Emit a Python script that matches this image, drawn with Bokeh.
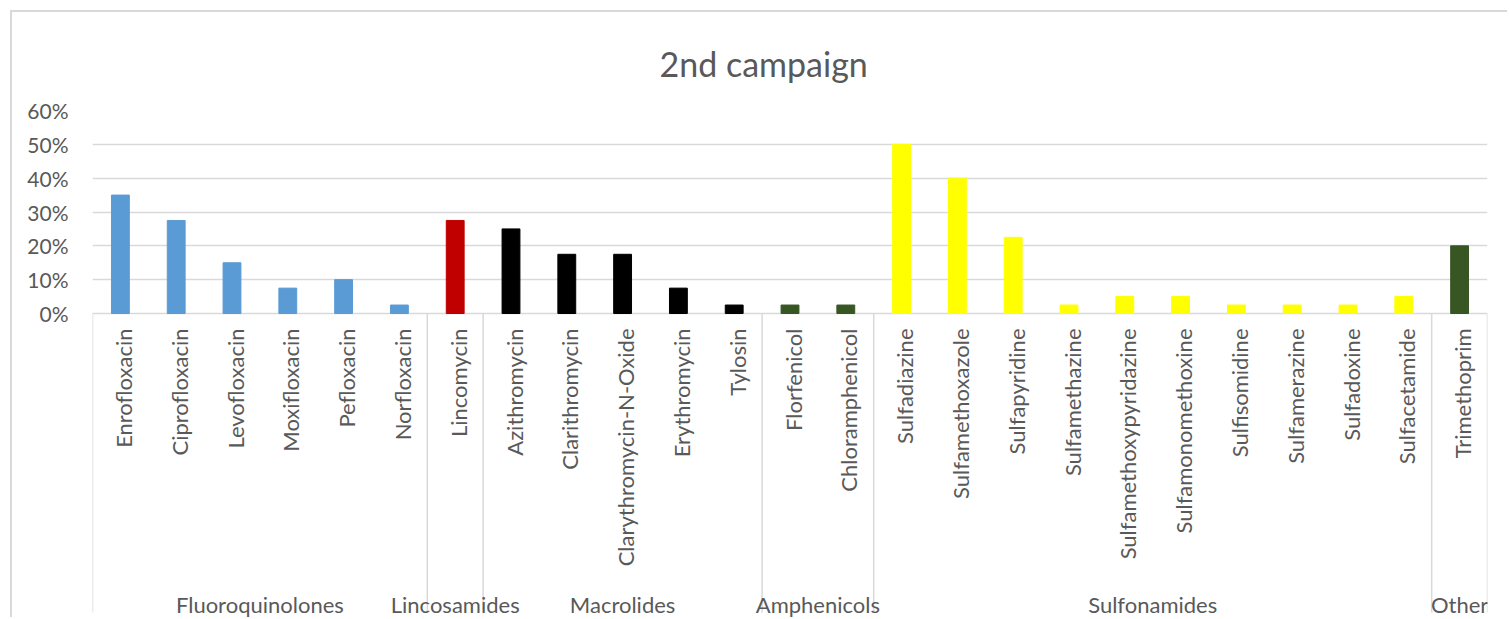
import math
from bokeh.plotting import figure
from bokeh.models import ColumnDataSource, FixedTicker, NumeralTickFormatter, Range1d, Title
from bokeh.core.properties import value
from bokeh.embed import file_html
from bokeh.resources import INLINE

# ---------------- data ----------------
groups = ["Fluoroquinolones", "Lincosamides", "Macrolides", "Amphenicols", "Sulfonamides", "Other"]
fluoroquinolones = ["Enrofloxacin", "Ciprofloxacin", "Levofloxacin", "Moxifloxacin", "Pefloxacin", "Norfloxacin"]
fluoroquinolones_vals = [0.35, 0.275, 0.15, 0.075, 0.10, 0.025]
lincosamides = ["Lincomycin"]
lincosamides_vals = [0.275]
macrolides = ["Azithromycin", "Clarithromycin", "Clarythromycin-N-Oxide", "Erythromycin", "Tylosin"]
macrolides_vals = [0.25, 0.175, 0.175, 0.075, 0.025]
amphenicols = ["Florfenicol", "Chloramphenicol"]
amphenicols_vals = [0.025, 0.025]
sulfonamides = ["Sulfadiazine", "Sulfamethoxazole", "Sulfapyridine", "Sulfamethazine",
                "Sulfamethoxypyridazine", "Sulfamonomethoxine", "Sulfisomidine",
                "Sulfamerazine", "Sulfadoxine", "Sulfacetamide"]
sulfonamides_vals = [0.50, 0.40, 0.225, 0.025, 0.05, 0.05, 0.025, 0.025, 0.025, 0.05]
other = ["Trimethoprim"]
other_vals = [0.20]
y_ticks = [0, 0.1, 0.2, 0.3, 0.4, 0.5, 0.6]

group_members = [fluoroquinolones, lincosamides, macrolides, amphenicols, sulfonamides, other]
group_values = [fluoroquinolones_vals, lincosamides_vals, macrolides_vals, amphenicols_vals,
                sulfonamides_vals, other_vals]
group_colors = ["#5B9BD5", "#C00000", "#000000", "#375623", "#FFFF00", "#375623"]

# ---------------- build sources ----------------
names, xs, tops, colors = [], [], [], []
sep_x = [0]
grp_x = []
i = 0
for members, vals, col in zip(group_members, group_values, group_colors):
    start = i
    for n, v in zip(members, vals):
        names.append(n)
        xs.append(i + 0.5)
        tops.append(v)
        colors.append(col)
        i += 1
    sep_x.append(i)
    grp_x.append((start + i) / 2)
ncat = i

TEXT = "#595959"
GRID = "#D9D9D9"
FONT = "Lato"

# layout: 0.6 units span 203 px
PX = 203 / 0.6
W, H = 1497, 607
top_border = 98
frame_h = H - top_border
y_min = 0.6 - frame_h / PX

p = figure(width=W, height=H, output_backend="svg", toolbar_location=None,
           x_range=Range1d(0, ncat), y_range=Range1d(y_min, 0.6),
           x_axis_location=None, min_border_left=80, min_border_right=22,
           min_border_top=top_border, min_border_bottom=0,
           background_fill_color="white", border_fill_color="white")
p.margin = (10, 0, 0, 10)
p.styles = {"border-top": "2px solid #D9D9D9", "border-left": "2px solid #D9D9D9"}
p.outline_line_color = None
p.xgrid.visible = False

p.yaxis.ticker = FixedTicker(ticks=y_ticks)
p.yaxis.formatter = NumeralTickFormatter(format="0%")
p.yaxis.axis_line_color = None
p.yaxis.major_tick_line_color = None
p.yaxis.minor_tick_line_color = None
p.yaxis.major_label_standoff = 18
p.yaxis.major_label_text_font = FONT
p.yaxis.major_label_text_font_size = "21px"
p.yaxis.major_label_text_color = TEXT
p.ygrid.ticker = FixedTicker(ticks=y_ticks)
p.ygrid.grid_line_color = GRID
p.ygrid.grid_line_width = 1.5

title = Title(text="2nd campaign", align="left", text_font=FONT, text_font_size="34px",
              text_font_style="normal", text_color=TEXT, offset=567, standoff=53)
p.add_layout(title, "above")

src = ColumnDataSource(dict(x=xs, top=tops, color=colors, name=names))
p.vbar(x="x", top="top", bottom=0, width=0.32, color="color", source=src)

# separators between groups (below the axis)
p.segment(x0=sep_x, y0=[0] * len(sep_x), x1=sep_x, y1=[-299 / PX] * len(sep_x),
          line_color=GRID, line_width=1.5)

# category labels (vertical)
p.text(x="x", y=-15 / PX, text="name", source=src, angle=math.pi / 2,
       text_align="right", text_baseline="middle", x_offset=3,
       text_font=value(FONT), text_font_size="22px", text_color=TEXT)

# group labels
p.text(x=grp_x, y=[-291 / PX] * len(grp_x), text=groups, text_align="center",
       text_baseline="alphabetic", text_font=value(FONT), text_font_size="22px",
       text_color=TEXT)

open("out.html", "w").write(file_html(p, INLINE))
